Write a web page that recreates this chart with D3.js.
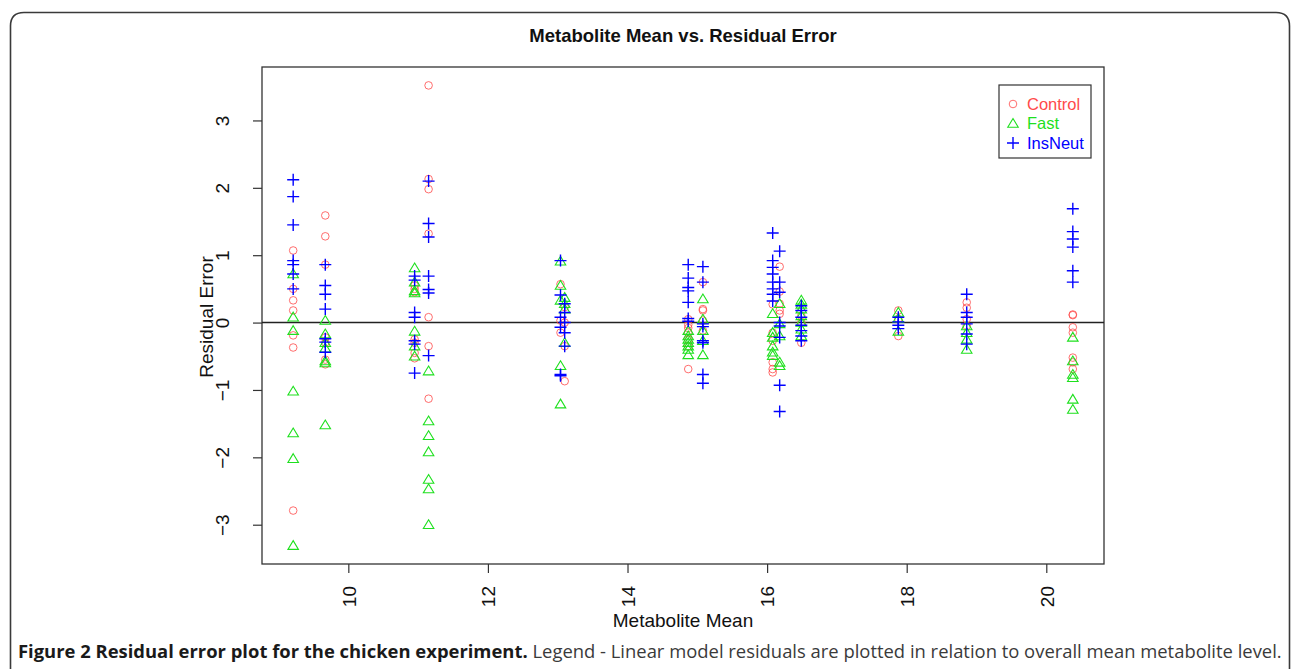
<!DOCTYPE html>
<html>
<head>
<meta charset="utf-8">
<script src="https://cdn.jsdelivr.net/npm/d3@7"></script>
<style>
  html, body { margin: 0; padding: 0; background: #fff; }
  svg { display: block; }
</style>
</head>
<body>
<svg id="chart" width="1292" height="669"></svg>
<script>
// ---- DATA ----
const metaboliteMean = [9.21, 9.67, 10.95, 11.15, 13.04, 13.10, 14.87, 15.08, 16.08, 16.18, 16.49, 17.88, 18.86, 20.38];

const controlResiduals = [
  [1.07, 0.50, 0.33, 0.18, -0.19, -0.37, -2.79],
  [1.59, 1.28, 0.86, -0.22, -0.30, -0.55, -0.62],
  [0.55, 0.50, 0.45, -0.25, -0.30, -0.45, -0.53],
  [3.52, 2.13, 1.98, 1.32, 0.08, -0.35, -1.13],
  [0.57, 0.03, -0.15],
  [0.23, 0.00, -0.35, -0.87],
  [0.05, -0.03, -0.08, -0.15, -0.25, -0.35, -0.69],
  [0.60, 0.20, 0.18, 0.03, -0.12],
  [0.27, -0.15, -0.27, -0.59, -0.69, -0.74],
  [0.83, 0.46, 0.28, 0.18, 0.13],
  [0.10, 0.00, -0.30],
  [0.18, 0.05, -0.20],
  [0.30, 0.22, 0.05, -0.05],
  [0.12, 0.11, -0.07, -0.15, -0.52, -0.59, -0.69]
];

const fastResiduals = [
  [0.72, 0.08, -0.12, -1.02, -1.64, -2.02, -3.31],
  [0.03, -0.17, -0.30, -0.38, -0.57, -0.60, -1.52],
  [0.81, 0.60, 0.47, 0.44, -0.13, -0.35, -0.50],
  [-0.72, -1.46, -1.68, -1.92, -2.33, -2.47, -3.00],
  [0.91, 0.55, 0.33, -0.64, -1.21],
  [0.37, 0.28, 0.20, -0.30],
  [-0.12, -0.20, -0.25, -0.30, -0.35, -0.40, -0.48],
  [0.35, 0.05, -0.12, -0.27, -0.48],
  [0.13, -0.15, -0.22, -0.35, -0.44, -0.49],
  [0.28, -0.02, -0.20, -0.59, -0.64],
  [0.33, 0.27, 0.20, 0.10, 0.00, -0.10, -0.20],
  [0.15, 0.06, -0.13],
  [-0.05, -0.15, -0.25, -0.40],
  [-0.22, -0.57, -0.77, -0.82, -1.14, -1.29]
];

const insNeutResiduals = [
  [2.12, 1.87, 1.45, 0.92, 0.86, 0.72, 0.50],
  [0.86, 0.55, 0.42, 0.20, -0.24, -0.29, -0.44],
  [0.69, 0.63, 0.15, 0.08, -0.27, -0.32, -0.75],
  [2.10, 1.47, 1.27, 0.69, 0.49, 0.44, -0.49],
  [0.92, 0.41, 0.08, -0.07, -0.77, -0.79],
  [0.28, 0.15, 0.00, -0.15, -0.35],
  [0.86, 0.66, 0.52, 0.47, 0.30, 0.06, 0.02],
  [0.83, 0.60, -0.02, -0.06, -0.27, -0.30, -0.77, -0.90],
  [1.33, 0.92, 0.82, 0.72, 0.60, 0.50, 0.42, 0.32],
  [1.06, 0.60, 0.45, 0.00, -0.05, -0.22, -0.93, -1.32],
  [0.25, 0.18, 0.08, -0.04, -0.12, -0.20, -0.27],
  [0.08, 0.01, -0.04, -0.09],
  [0.42, 0.15, 0.08, -0.02, -0.17, -0.32],
  [1.69, 1.35, 1.24, 1.12, 0.77, 0.60]
];

const groupNames = ["Control", "Fast", "InsNeut"];
const groupColors = ["#ff4a4a", "#1ee01e", "#0000ff"];
const xTickValues = [10, 12, 14, 16, 18, 20];
const yTickValues = [-3, -2, -1, 0, 1, 2, 3];

const chartTitle = "Metabolite Mean vs. Residual Error";
const xLabel = "Metabolite Mean";
const yLabel = "Residual Error";
const captionBold = "Figure 2 Residual error plot for the chicken experiment.";
const captionRest = " Legend - Linear model residuals are plotted in relation to overall mean metabolite level.";

// ---- build points ----
const allGroups = [controlResiduals, fastResiduals, insNeutResiduals];
const points = [];
allGroups.forEach((g, gi) => {
  g.forEach((col, ci) => col.forEach(v => points.push({ x: metaboliteMean[ci], y: v, g: gi })));
});

// ---- layout ----
const svg = d3.select("#chart");
const plot = { left: 262, right: 1104, top: 67, bottom: 564 };
const FONT = "Liberation Sans, Arial, sans-serif";

function rExtent(vals) {            // R style 4% padding
  const [a, b] = d3.extent(vals);
  const p = (b - a) * 0.04;
  return [a - p, b + p];
}
const x = d3.scaleLinear().domain(rExtent(points.map(d => d.x))).range([plot.left, plot.right]);
const y = d3.scaleLinear().domain(rExtent(points.map(d => d.y))).range([plot.bottom, plot.top]);

// outer frame
svg.append("path")
  .attr("d", "M10.5,669 L10.5,26 Q10.5,12.5 24,12.5 L1276,12.5 Q1289.5,12.5 1289.5,26 L1289.5,669")
  .attr("fill", "none").attr("stroke", "#3a3a3a").attr("stroke-width", 1.6);

// title
svg.append("text").attr("x", (plot.left + plot.right) / 2).attr("y", 42)
  .attr("text-anchor", "middle").attr("font-family", FONT)
  .attr("font-weight", "bold").attr("font-size", 18.5).attr("fill", "#111")
  .text(chartTitle);

// plot box
svg.append("rect").attr("x", plot.left).attr("y", plot.top)
  .attr("width", plot.right - plot.left).attr("height", plot.bottom - plot.top)
  .attr("fill", "none").attr("stroke", "#333").attr("stroke-width", 1.3);

// x axis
const xAxis = d3.axisBottom(x).tickValues(xTickValues).tickSize(9).tickFormat(d3.format("d"));
const gx = svg.append("g").attr("transform", `translate(0,${plot.bottom})`).call(xAxis);
gx.select(".domain").remove();
gx.selectAll(".tick line").attr("stroke", "#333").attr("stroke-width", 1.2);
gx.selectAll(".tick text")
  .attr("font-family", FONT).attr("font-size", 19).attr("fill", "#111")
  .attr("transform", "rotate(-90)")
  .attr("text-anchor", "end").attr("x", -22).attr("y", 0).attr("dy", "0.36em");

// y axis
const yAxis = d3.axisLeft(y).tickValues(yTickValues).tickSize(9)
  .tickFormat(d => d < 0 ? "\u2212" + Math.abs(d) : String(d));
const gy = svg.append("g").attr("transform", `translate(${plot.left},0)`).call(yAxis);
gy.select(".domain").remove();
gy.selectAll(".tick line").attr("stroke", "#333").attr("stroke-width", 1.2);
gy.selectAll(".tick text")
  .attr("font-family", FONT).attr("font-size", 19).attr("fill", "#111")
  .attr("transform", "rotate(-90)")
  .attr("text-anchor", "middle").attr("x", 0).attr("y", -40).attr("dy", "0.36em");

// axis labels
svg.append("text").attr("x", (plot.left + plot.right) / 2).attr("y", 627)
  .attr("text-anchor", "middle").attr("font-family", FONT)
  .attr("font-size", 19).attr("fill", "#111").text(xLabel);
svg.append("text").attr("transform", `translate(213,317) rotate(-90)`)
  .attr("text-anchor", "middle").attr("font-family", FONT)
  .attr("font-size", 19).attr("fill", "#111").text(yLabel);

// zero line
svg.append("line").attr("x1", plot.left).attr("x2", plot.right)
  .attr("y1", y(0)).attr("y2", y(0)).attr("stroke", "#222").attr("stroke-width", 1.5);

// markers
function drawMarker(sel, gi, cx, cy) {
  const col = groupColors[gi];
  if (gi === 0) {
    sel.append("circle").attr("cx", cx).attr("cy", cy).attr("r", 3.8)
      .attr("fill", "none").attr("stroke", col).attr("stroke-width", 1).attr("stroke-opacity", 0.8);
  } else if (gi === 1) {
    const s = 5;
    sel.append("path")
      .attr("d", `M${cx},${cy - s} L${cx + s * 1.05},${cy + s * 0.75} L${cx - s * 1.05},${cy + s * 0.75} Z`)
      .attr("fill", "none").attr("stroke", col).attr("stroke-width", 1.1);
  } else {
    const s = 6;
    sel.append("path")
      .attr("d", `M${cx - s},${cy} H${cx + s} M${cx},${cy - s} V${cy + s}`)
      .attr("fill", "none").attr("stroke", col).attr("stroke-width", 1.4);
  }
}
const gm = svg.append("g");
points.forEach(d => drawMarker(gm, d.g, x(d.x), y(d.y)));

// legend
const leg = svg.append("g");
leg.append("rect").attr("x", 999).attr("y", 85).attr("width", 92).attr("height", 73)
  .attr("fill", "#fff").attr("stroke", "#333").attr("stroke-width", 1.2);
groupNames.forEach((name, i) => {
  const ly = 104 + i * 19.5;
  drawMarker(leg, i, 1013, ly);
  leg.append("text").attr("x", 1027).attr("y", ly).attr("dy", "0.36em")
    .attr("font-family", FONT).attr("font-size", 16.5)
    .attr("fill", groupColors[i]).text(name);
});

// caption
const cap = svg.append("text").attr("x", 18).attr("y", 658)
  .attr("font-family", "Open Sans, Noto Sans, sans-serif").attr("font-size", 17).attr("fill", "#3a3a3a");
cap.append("tspan").attr("font-weight", "bold").attr("fill", "#1a1a1a").text(captionBold);
cap.append("tspan").text(captionRest);
const targetW = 1265;
const w = cap.node().getComputedTextLength();
cap.attr("font-size", 17 * targetW / w);
</script>
</body>
</html>
